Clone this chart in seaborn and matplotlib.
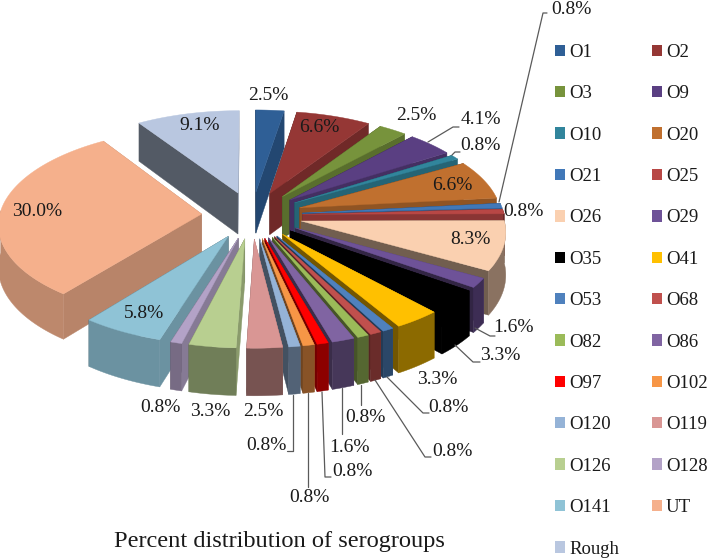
import numpy as np
import matplotlib
matplotlib.use("Agg")
import matplotlib.pyplot as plt
from matplotlib.patches import Patch, Polygon
import seaborn as sns

groups = ["O1", "O2", "O3", "O9", "O10", "O20", "O21", "O25", "O26", "O29", "O35", "O41", "O53",
          "O68", "O82", "O86", "O97", "O102", "O120", "O119", "O126", "O128", "O141", "UT", "Rough"]
percent = [2.5, 6.6, 2.5, 4.1, 0.8, 6.6, 0.8, 0.8, 8.3, 1.6, 3.3, 3.3, 0.8,
           0.8, 0.8, 1.6, 0.8, 0.8, 0.8, 2.5, 3.3, 0.8, 5.8, 30.0, 9.1]
colors = ["#2F5F96", "#953735", "#77933C", "#5A3F82", "#31859C", "#C0702F", "#4178B8", "#B84745",
          "#FAD0B0", "#6E5298", "#000000", "#FFC000", "#4F81BD", "#C0504D", "#9BBB59", "#8064A2",
          "#FF0000", "#F79646", "#95B3D7", "#D99694", "#B8CF90", "#B3A2C7", "#8FC3D6", "#F5B08C", "#B9C7E0"]
title = "Percent distribution of serogroups"

# label centres (pixels), same order as groups
label_xy = [(268, 96), (319, 128), (416, 116), (481, 120), (480, 146), (452, 185), (571, 9), (523, 211),
            (470, 240), (513, 328), (500, 355), (437, 380), (448, 407), (452, 451), (365, 417), (349, 447),
            (352, 471), (309, 497), (266, 445), (263, 411), (210, 411), (160, 407), (144, 314), (37, 211), (200, 125)]
leaders = [[(428, 142), (453, 127), (459, 127)], [(452, 155), (455, 152), (460, 152)],
           [(499, 202), (543, 13), (547, 13)], [(475, 328), (490, 336), (495, 336)],
           [(455, 345), (473, 362), (480, 362)], [(387, 377), (423, 413), (429, 413)],
           [(375, 380), (425, 457), (431, 457)], [(361, 385), (361, 405)], [(342, 388), (342, 434)],
           [(322, 392), (325, 477), (331, 477)], [(308, 393), (308, 487)], [(293, 395), (293, 451), (287, 451)]]

CX, CY, RX, RY, DEPTH, EXPLODE, PERSP = 252, 215, 202, 94, 42, 0.25, 0.0944

sns.set_theme(style="white")
plt.rcParams["font.family"] = ["Liberation Serif", "DejaVu Serif"]
fig, ax = plt.subplots(figsize=(7.09, 5.59), dpi=100)
ax.set_position([0, 0, 1, 1])
ax.set_xlim(0, 709)
ax.set_ylim(559, 0)
ax.axis("off")


def project(wx, wy, z):
    s = 1 / (1 + PERSP * wy)
    return np.column_stack([CX + RX * wx * s, CY - RY * wy * s + DEPTH * z * s])


def shade(col, f):
    return tuple(min(1, c * f) for c in matplotlib.colors.to_rgb(col))


def add_poly(pts, col, z):
    ax.add_patch(Polygon(pts, closed=True, fc=col, ec=col, lw=0.3, zorder=z))


edges = np.radians(np.r_[0, np.cumsum(percent)] / np.sum(percent) * 360)
slices = []
for i in range(len(percent)):
    a0, a1 = edges[i], edges[i + 1]
    mid = (a0 + a1) / 2
    slices.append((EXPLODE * np.cos(mid), i, a0, a1, mid))

for rank, (oy, i, a0, a1, mid) in enumerate(sorted(slices, key=lambda q: -q[0])):
    col = colors[i]
    ox = EXPLODE * np.sin(mid)
    t = np.linspace(a0, a1, max(4, int(np.degrees(a1 - a0)) + 2))
    ax_x, ax_y = np.sin(t) + ox, np.cos(t) + oy
    z0 = 2 + rank * 0.01

    # radial faces: lit when turned to the right, dark when turned to the left
    faces = []
    for a, sign in [(a0, -1), (a1, 1)]:
        ex, ey = np.sin(a) + ox, np.cos(a) + oy
        nx = sign * np.cos(a)
        pts = project(np.array([ox, ex, ex, ox]), np.array([oy, ey, ey, oy]), np.array([0, 0, 1, 1]))
        faces.append(((oy + ey) / 2, pts, 0.75 if nx > 0 else 0.45))
    faces.sort(key=lambda f: -f[0])
    for _, pts, f in faces:
        add_poly(pts, shade(col, f), z0)

    # outer wall only where it turns towards the viewer
    front = np.cos(t) < 0.05
    if front.sum() >= 2:
        deg = np.degrees(mid)
        f = 0.55 + 0.22 * np.clip((deg - 180) / 30, 0, 1)
        top_arc = project(ax_x[front], ax_y[front], np.zeros(front.sum()))
        bot_arc = project(ax_x[front], ax_y[front], np.ones(front.sum()))
        add_poly(np.vstack([top_arc, bot_arc[::-1]]), shade(col, f), z0 + 0.002)

    arc_top = project(ax_x, ax_y, np.zeros_like(t))
    apex = project(np.array([ox]), np.array([oy]), np.zeros(1))
    add_poly(np.vstack([apex, arc_top]), col, z0 + 0.004)

for line in leaders:
    xs, ys = zip(*line)
    ax.plot(xs, ys, color="#5a5a5a", lw=0.9, zorder=5)

for v, (x, y) in zip(percent, label_xy):
    ax.text(x, y, f"{v:.1f}%", ha="center", va="center", fontsize=14, color="#1a1a1a", zorder=6)

ax.text(279, 541, title, ha="center", va="center", fontsize=17.6, color="#1a1a1a")

handles = [Patch(fc=c, ec="none", label=g) for g, c in zip(groups, colors)]
ordered = handles[0::2] + handles[1::2]
ax.legend(handles=ordered, ncols=2, loc="upper left", bbox_to_anchor=(555, 44), bbox_transform=ax.transData,
          frameon=False, fontsize=13.5, labelspacing=1.3, handlelength=0.55, handleheight=0.55,
          handletextpad=0.2, columnspacing=1.75, borderpad=0, borderaxespad=0, labelcolor="#1a1a1a")

fig.savefig("out.png", dpi=100)
